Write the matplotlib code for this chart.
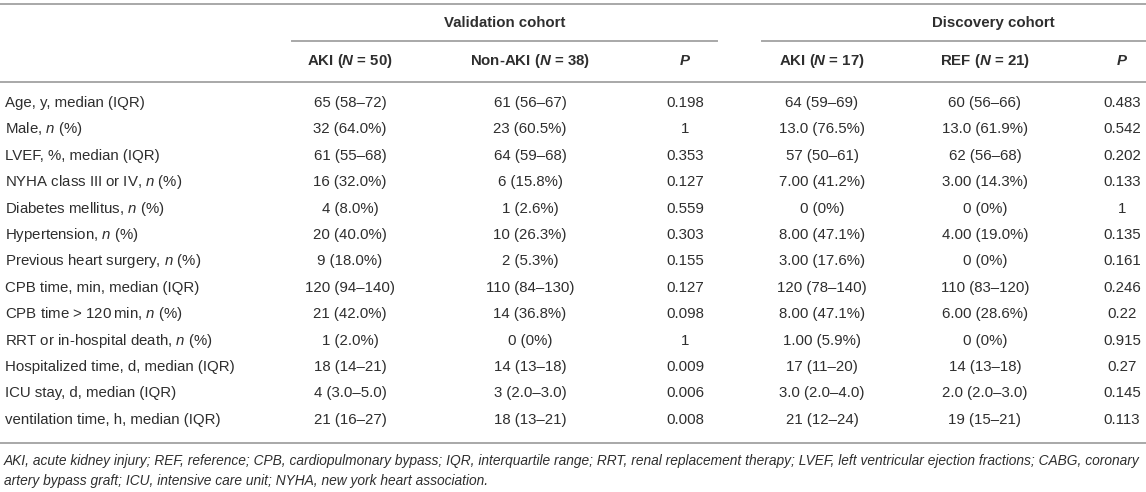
import matplotlib
matplotlib.use("Agg")
import matplotlib.pyplot as plt

plt.rcParams['font.family'] = 'Liberation Sans'
plt.rcParams['mathtext.fontset'] = 'custom'
plt.rcParams['mathtext.rm'] = 'Liberation Sans'
plt.rcParams['mathtext.it'] = 'Liberation Sans:italic'
plt.rcParams['mathtext.bf'] = 'Liberation Sans:bold'
plt.rcParams['mathtext.bfit'] = 'Liberation Sans:bold:italic'

# ---- table content ----
groups = ['Validation cohort', 'Discovery cohort']
col_headers = ['AKI ($\\mathbfit{N}$ = 50)', 'Non-AKI ($\\mathbfit{N}$ = 38)', 'P',
               'AKI ($\\mathbfit{N}$ = 17)', 'REF ($\\mathbfit{N}$ = 21)', 'P']

row_labels = [
    'Age, y, median (IQR)',
    'Male, $n$ (%)',
    'LVEF, %, median (IQR)',
    'NYHA class III or IV, $n$ (%)',
    'Diabetes mellitus, $n$ (%)',
    'Hypertension, $n$ (%)',
    'Previous heart surgery, $n$ (%)',
    'CPB time, min, median (IQR)',
    'CPB time > 120\u2009min, $n$ (%)',
    'RRT or in-hospital death, $n$ (%)',
    'Hospitalized time, d, median (IQR)',
    'ICU stay, d, median (IQR)',
    'ventilation time, h, median (IQR)',
]

val_aki = ['65 (58\u201372)', '32 (64.0%)', '61 (55\u201368)', '16 (32.0%)', '4 (8.0%)',
           '20 (40.0%)', '9 (18.0%)', '120 (94\u2013140)', '21 (42.0%)', '1 (2.0%)',
           '18 (14\u201321)', '4 (3.0\u20135.0)', '21 (16\u201327)']
val_non = ['61 (56\u201367)', '23 (60.5%)', '64 (59\u201368)', '6 (15.8%)', '1 (2.6%)',
           '10 (26.3%)', '2 (5.3%)', '110 (84\u2013130)', '14 (36.8%)', '0 (0%)',
           '14 (13\u201318)', '3 (2.0\u20133.0)', '18 (13\u201321)']
val_p = ['0.198', '1', '0.353', '0.127', '0.559', '0.303', '0.155', '0.127', '0.098',
         '1', '0.009', '0.006', '0.008']
dis_aki = ['64 (59\u201369)', '13.0 (76.5%)', '57 (50\u201361)', '7.00 (41.2%)', '0 (0%)',
           '8.00 (47.1%)', '3.00 (17.6%)', '120 (78\u2013140)', '8.00 (47.1%)', '1.00 (5.9%)',
           '17 (11\u201320)', '3.0 (2.0\u20134.0)', '21 (12\u201324)']
dis_ref = ['60 (56\u201366)', '13.0 (61.9%)', '62 (56\u201368)', '3.00 (14.3%)', '0 (0%)',
           '4.00 (19.0%)', '0 (0%)', '110 (83\u2013120)', '6.00 (28.6%)', '0 (0%)',
           '14 (13\u201318)', '2.0 (2.0\u20133.0)', '19 (15\u201321)']
dis_p = ['0.483', '0.542', '0.202', '0.133', '1', '0.135', '0.161', '0.246', '0.22',
         '0.915', '0.27', '0.145', '0.113']

footnote_lines = [
    'AKI, acute kidney injury; REF, reference; CPB, cardiopulmonary bypass; IQR, '
    'interquartile range; RRT, renal replacement therapy; LVEF, left ventricular '
    'ejection fractions; CABG, coronary',
    'artery bypass graft; ICU, intensive care unit; NYHA, new york heart association.',
]

# ---- layout (pixel coordinates) ----
W, H = 1146, 492
TXT = '#2e2e2e'
LINE = '#a8a8a8'
FS = 10.8

fig = plt.figure(figsize=(W / 100, H / 100), dpi=100)
ax = fig.add_axes([0, 0, 1, 1])
ax.set_xlim(0, W)
ax.set_ylim(H, 0)
ax.axis('off')

col_x = [350, 530, 685, 822, 985, 1122]
group_x = [505, 993]
group_lines = [(292, 717), (762, 1146)]
row_y0, row_dy = 103, 26.4

# horizontal rules
ax.plot([0, W], [4, 4], color=LINE, lw=1.4)
for x0, x1 in group_lines:
    ax.plot([x0, x1], [41, 41], color=LINE, lw=1.4)
ax.plot([0, W], [82, 82], color=LINE, lw=1.4)
ax.plot([0, W], [443, 443], color=LINE, lw=1.4)

# group headers
for gx, g in zip(group_x, groups):
    ax.text(gx, 23, g, ha='center', va='center', fontsize=FS, fontweight='bold', color=TXT)

# column headers
for cx, h in zip(col_x, col_headers):
    style = 'italic' if h == 'P' else 'normal'
    ax.text(cx, 61, h, ha='center', va='center', fontsize=FS, fontweight='bold',
            fontstyle=style, color=TXT)

# body
columns = [val_aki, val_non, val_p, dis_aki, dis_ref, dis_p]
for i, lab in enumerate(row_labels):
    y = row_y0 + i * row_dy
    ax.text(5, y, lab, ha='left', va='center', fontsize=FS, color=TXT)
    for cx, col in zip(col_x, columns):
        ax.text(cx, y, col[i], ha='center', va='center', fontsize=FS, color=TXT)

# footnote
for k, line in enumerate(footnote_lines):
    ax.text(4, 461 + k * 20, line, ha='left', va='center', fontsize=9.9,
            fontstyle='italic', color=TXT)

fig.savefig('out.png', dpi=100)
